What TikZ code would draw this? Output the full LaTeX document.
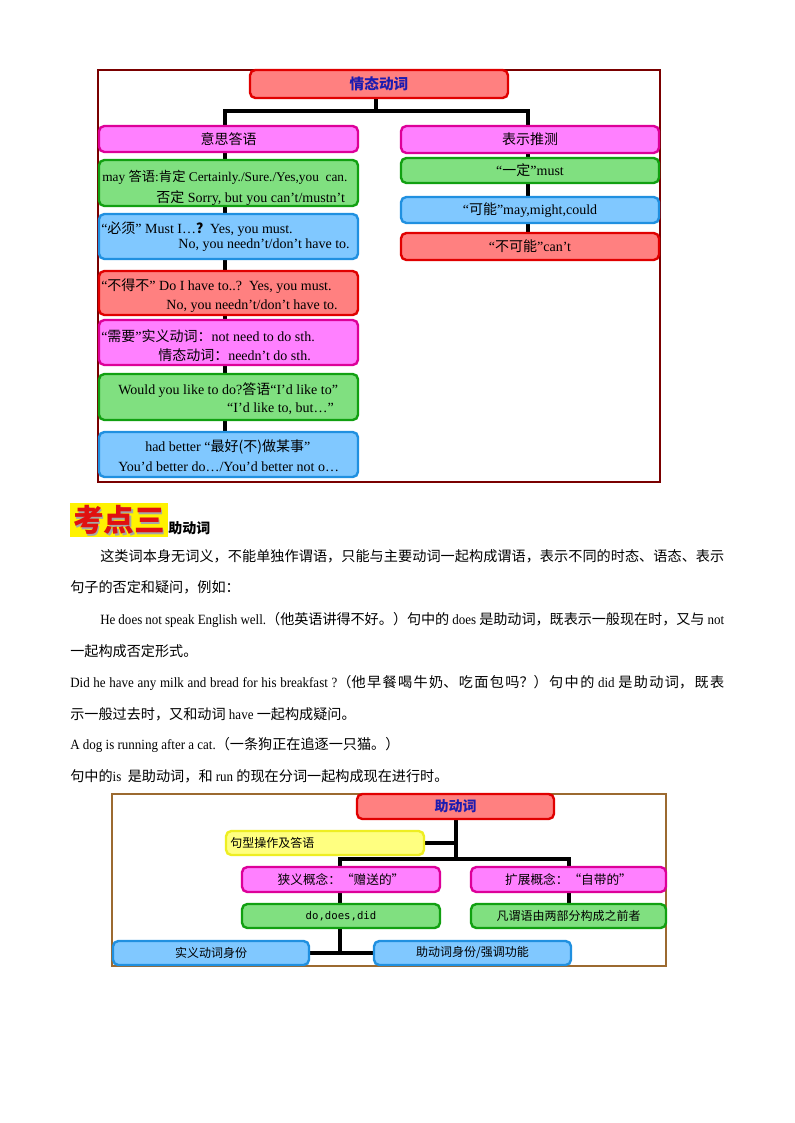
\documentclass[tikz,border=0pt]{standalone}
\usepackage{fontspec}
\setmainfont{Liberation Serif}
\newfontfamily\cjkfont{Noto Sans CJK SC}
\newfontfamily\bodyen{Liberation Serif}[FakeStretch=0.92]
\newfontfamily\monofont{DejaVu Sans Mono}
\newcommand\zh[1]{{\cjkfont #1}}
\newcommand\jline[1]{\noindent\XeTeXlinebreaklocale "zh"\XeTeXlinebreakskip=0pt plus 4pt minus 0.3pt\relax #1\parfillskip=0pt\par}
\usetikzlibrary{backgrounds}
\definecolor{rfill}{HTML}{FF8080}
\definecolor{rline}{HTML}{E00000}
\definecolor{mfill}{HTML}{FF80FF}
\definecolor{mline}{HTML}{DD0099}
\definecolor{gfill}{HTML}{80E080}
\definecolor{gline}{HTML}{11A011}
\definecolor{bfill}{HTML}{80C8FF}
\definecolor{bline}{HTML}{2090E0}
\definecolor{yfill}{HTML}{FFFF80}
\definecolor{yline}{HTML}{EEEE22}
\definecolor{tblue}{HTML}{1C1CB0}
\definecolor{frameA}{HTML}{7A0000}
\definecolor{frameB}{HTML}{9C6A30}
\definecolor{kdred}{HTML}{E01010}
\tikzset{
  bx/.style={draw, rounded corners=4pt, line width=1.8pt, inner sep=0pt},
  rbox/.style={bx, fill=rfill, draw=rline},
  mbox/.style={bx, fill=mfill, draw=mline},
  gbox/.style={bx, fill=gfill, draw=gline},
  bbox/.style={bx, fill=bfill, draw=bline},
  ybox/.style={bx, fill=yfill, draw=yline},
  conn/.style={line width=3pt, black},
  btxt/.style={inner sep=0pt, font=\fontsize{10.5}{12}\selectfont},
  ctxt/.style={font=\cjkfont\fontsize{9}{11}\selectfont},
  body/.style={inner sep=0pt, anchor=west, font=\bodyen\fontsize{10.6}{12}\selectfont},
  jbody/.style={body, align=justify, text width=#1},
}
\newcommand\mybox[7]{\node[#1, minimum width={(#5-#3)*0.75pt}, minimum height={(#6-#4)*0.75pt}] (#2) at ({(#3+#5)/2},{(#4+#6)/2}) {#7};}
\begin{document}
\begin{tikzpicture}[x=0.75pt, y=-0.75pt]
\useasboundingbox (0,0) rectangle (794,1123);
\begin{scope}[on background layer]
\fill[white] (0,0) rectangle (794,1123);
\draw[frameA, line width=0.8pt] (98,70) rectangle (660,482);
\draw[frameB, line width=0.8pt] (112,794) rectangle (666,966);
\end{scope}

% ---------- top diagram ----------
\mybox{rbox}{title}{250}{70}{508}{98}{\cjkfont\bfseries\fontsize{11}{13}\selectfont\color{tblue}情态动词}
\mybox{mbox}{ys}{99}{126}{358}{152}{\cjkfont\fontsize{10.5}{12}\selectfont 意思答语}
\mybox{gbox}{may}{99}{160}{358}{206}{}
\mybox{bbox}{must}{99}{214}{358}{259}{}
\mybox{rbox}{bdb}{99}{271}{358}{315}{}
\mybox{mbox}{need}{99}{320}{358}{365}{}
\mybox{gbox}{would}{99}{374}{358}{420}{}
\mybox{bbox}{had}{99}{432}{358}{477}{}

\mybox{mbox}{tc}{401}{126}{659}{153}{\cjkfont\fontsize{10.5}{12}\selectfont 表示推测}
\mybox{gbox}{yd}{401}{158}{659}{183}{\fontsize{10.5}{12}\selectfont “\zh{一定}”must}
\mybox{bbox}{kn}{401}{197}{659}{223}{\fontsize{10.5}{12}\selectfont “\zh{可能}”may,might,could}
\mybox{rbox}{bkn}{401}{233}{659}{260}{\fontsize{10.5}{12}\selectfont “\zh{不可能}”can’t}

\node[btxt, anchor=west, font=\fontsize{10}{12}\selectfont] (may1) at (102,177) {may \zh{答语}:\zh{肯定} Certainly./Sure./Yes,you\ \ can.};
\node[btxt, anchor=west] (may2) at (156,198) {\zh{否定} Sorry, but you can’t/mustn’t};
\node[btxt, anchor=west] (must1) at (101,229) {“\zh{必须}” Must I…\zh{\bfseries ？}Yes, you must.};
\node[btxt, anchor=east] (must2) at (350,245) {No, you needn’t/don’t have to.};
\node[btxt, anchor=west] (bdb1) at (101,286) {“\zh{不得不}” Do I have to..?\ \ Yes, you must.};
\node[btxt, anchor=east] (bdb2) at (338,306) {No, you needn’t/don’t have to.};
\node[btxt, anchor=west] (need1) at (101,336) {“\zh{需要}”\zh{实义动词：}not need to do sth.};
\node[btxt, anchor=west] (need2) at (158,355) {\zh{情态动词：}needn’t do sth.};
\node[btxt, anchor=west] (would1) at (118,390) {Would you like to do?\zh{答语}“I’d like to”};
\node[btxt, anchor=east] (would2) at (334,409) {“I’d like to, but…”};
\node[btxt, anchor=west] (had1) at (145,447) {had better “\zh{最好(不)做某事}”};
\node[btxt, anchor=west] (had2) at (118,467) {You’d better do…/You’d better not o…};

\begin{scope}[on background layer]
\coordinate (busA) at (376,111);
\draw[conn] ([xshift=-2.25pt]title.center) -- (busA);
\draw[conn] ([xshift=-2.6pt]ys.center) |- ([xshift=-1.5pt]tc.center |- busA) -- ([xshift=-1.5pt]tc.center);
\draw[conn] ([xshift=-2.6pt]ys.center) -- ([xshift=-2.6pt]had.center);
\draw[conn] ([xshift=-1.5pt]tc.center) -- ([xshift=-1.5pt]bkn.center);
\end{scope}

% ---------- heading ----------
\node[fill=yellow, inner sep=0pt, minimum width={98*0.75pt}, minimum height={34*0.75pt}] (kd) at (119,520) {};
\node[text=black!35, font=\cjkfont\bfseries\fontsize{23}{23}\selectfont] (kdsh) at (120.5,521.5) {考点三};
\node[text=kdred, font=\cjkfont\bfseries\fontsize{23}{23}\selectfont] (kdt) at (119,520) {考点三};
\node[inner sep=0pt, anchor=west, font=\cjkfont\bfseries\fontsize{10.5}{12}\selectfont] (zdh) at (168,528) {助动词};

% ---------- body ----------
\node[jbody={468pt}] (b1) at (100,556) {\jline{\zh{这类词本身无词义，不能单独作谓语，只能与主要动词一起构成谓语，表示不同的时态、语态、表示}}};
\node[body] (b2) at (70,587) {\zh{句子的否定和疑问，例如：}};
\node[jbody={468pt}] (b3) at (100,620) {\jline{He does not speak English well.\zh{（他英语讲得不好。）句中的} does \zh{是助动词，既表示一般现在时，又与} not}};
\node[body] (b4) at (70,651) {\zh{一起构成否定形式。}};
\node[jbody={490.5pt}] (b5) at (70,683) {\jline{Did he have any milk and bread for his breakfast ?\zh{（他早餐喝牛奶、吃面包吗？）句中的} did \zh{是助动词，既表}}};
\node[body] (b6) at (70,714) {\zh{示一般过去时，又和动词} have \zh{一起构成疑问。}};
\node[body] (b7) at (70,745) {A dog is running after a cat.\zh{（一条狗正在追逐一只猫。）}};
\node[body] (b8) at (70,776) {\zh{句中的}is\ \ \zh{是助动词，和} run \zh{的现在分词一起构成现在进行时。}};

% ---------- bottom diagram ----------
\mybox{rbox}{zd}{357}{794}{554}{819}{\cjkfont\bfseries\fontsize{10.5}{12}\selectfont\color{tblue}助动词}
\mybox{ybox}{jx}{226}{831}{424}{855}{}
\node[ctxt, inner sep=0pt, anchor=west] (jxt) at (230,843) {句型操作及答语};
\mybox{mbox}{xy}{242}{867}{440}{892}{\cjkfont\fontsize{9.5}{11}\selectfont 狭义概念：“赠送的”}
\mybox{mbox}{kz}{471}{867}{666}{892}{\cjkfont\fontsize{9.5}{11}\selectfont 扩展概念：“自带的”}
\mybox{gbox}{do}{242}{904}{440}{928}{\monofont\fontsize{8}{10}\selectfont do,does,did}
\mybox{gbox}{fw}{471}{904}{666}{928}{\cjkfont\fontsize{9}{11}\selectfont 凡谓语由两部分构成之前者}
\mybox{bbox}{sy}{113}{941}{309}{965}{\cjkfont\fontsize{9}{11}\selectfont 实义动词身份}
\mybox{bbox}{zs}{374}{941}{571}{965}{\cjkfont\fontsize{9}{11}\selectfont 助动词身份/强调功能}

\begin{scope}[on background layer]
\coordinate (busB) at (456,859);
\draw[conn] (zd.center) -- (zd.center |- busB);
\draw[conn] (jx.center) -- (jx.center -| zd.center);
\draw[conn] ([xshift=-0.75pt]xy.center) |- (kz.center |- busB) -- (kz.center);
\draw[conn] ([xshift=-0.75pt]xy.center) -- ([xshift=-0.75pt]do.center) -- ([xshift=-0.75pt]do.center |- sy.center);
\draw[conn] (sy.center) -- (zs.center);
\draw[conn] (kz.center) -- (fw.center);
\end{scope}
\end{tikzpicture}
\end{document}
